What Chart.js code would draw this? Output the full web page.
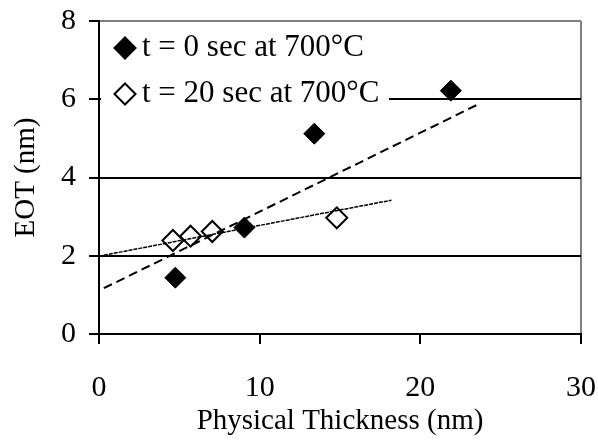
<!DOCTYPE html>
<html>
<head>
<meta charset="utf-8">
<script src="https://cdn.jsdelivr.net/npm/chart.js@4.4.1/dist/chart.umd.min.js"></script>
<style>
  html, body { margin: 0; padding: 0; background: #fff; }
  canvas { display: block; }
</style>
</head>
<body>
<canvas id="eotChart" width="598" height="440"></canvas>
<script>
// Datos
const series0X = [4.75, 9.05, 13.4, 21.9];      // t = 0 sec
const series0Y = [1.44, 2.72, 5.12, 6.22];
const series20X = [4.6, 5.7, 7.05, 14.8];       // t = 20 sec
const series20Y = [2.39, 2.5, 2.62, 2.97];
const trend0X = [0.3, 23.7];                    // línea discontinua
const trend0Y = [1.17, 5.89];
const trend20X = [0, 18.2];                     // línea fina
const trend20Y = [1.99, 3.42];
const legendLabels = ['t = 0 sec at 700°C', 't = 20 sec at 700°C'];
const xTicks = [0, 10, 20, 30];
const yTicks = [0, 2, 4, 6, 8];

const FONT = '"Liberation Serif", "Times New Roman", serif';

function toPoints(xs, ys) {
    return xs.map((x, i) => ({ x: x, y: ys[i] }));
}

function drawDiamond(ctx, x, y, r, filled) {
    ctx.beginPath();
    ctx.moveTo(x - r, y);
    ctx.lineTo(x, y - r);
    ctx.lineTo(x + r, y);
    ctx.lineTo(x, y + r);
    ctx.closePath();
    ctx.fillStyle = filled ? '#000' : '#fff';
    ctx.fill();
    ctx.lineWidth = 2;
    ctx.strokeStyle = '#000';
    ctx.stroke();
}

// Leyenda dentro del área del gráfico, con fondo blanco
const insideLegend = {
    id: 'insideLegend',
    afterDatasetsDraw(chart) {
        const ctx = chart.ctx;
        const area = chart.chartArea;
        ctx.save();
        ctx.fillStyle = '#fff';
        ctx.fillRect(area.left + 2, area.top + 2, 288, 95);
        ctx.font = '31px ' + FONT;
        ctx.textBaseline = 'middle';
        ctx.textAlign = 'left';
        const rows = [area.top + 27, area.top + 73];
        legendLabels.forEach((label, i) => {
            drawDiamond(ctx, area.left + 26, rows[i], 10.5, i === 0);
            ctx.fillStyle = '#000';
            ctx.fillText(label, area.left + 43, rows[i]);
        });
        ctx.restore();
    }
};

const ctx = document.getElementById('eotChart').getContext('2d');

new Chart(ctx, {
    type: 'scatter',
    data: {
        datasets: [
            {
                label: legendLabels[0],
                data: toPoints(series0X, series0Y),
                pointStyle: 'rectRot',
                pointRadius: 10.5,
                pointBackgroundColor: '#000',
                pointBorderColor: '#000',
                pointBorderWidth: 1,
                order: 3
            },
            {
                label: legendLabels[1],
                data: toPoints(series20X, series20Y),
                pointStyle: 'rectRot',
                pointRadius: 10.5,
                pointBackgroundColor: '#fff',
                pointBorderColor: '#000',
                pointBorderWidth: 2,
                order: 2
            },
            {
                label: 'trend 0',
                data: toPoints(trend0X, trend0Y),
                showLine: true,
                pointRadius: 0,
                borderColor: '#000',
                borderWidth: 2,
                borderDash: [9, 5],
                order: 1
            },
            {
                label: 'trend 20',
                data: toPoints(trend20X, trend20Y),
                showLine: true,
                pointRadius: 0,
                borderColor: '#000',
                borderWidth: 1.5,
                borderDash: [4, 1],
                order: 0
            }
        ]
    },
    options: {
        responsive: false,
        animation: false,
        layout: { padding: { left: 0, right: 17, top: 21, bottom: 0 } },
        plugins: {
            legend: { display: false },
            tooltip: { enabled: false }
        },
        scales: {
            x: {
                type: 'linear',
                min: 0,
                max: 30,
                afterBuildTicks: scale => { scale.ticks = xTicks.map(v => ({ value: v })); },
                afterFit: scale => {
                    scale.height = 106;
                    scale.paddingLeft = 0;
                    scale.paddingRight = 0;
                },
                border: { color: '#000', width: 2 },
                grid: {
                    color: c => c.tick && c.tick.value === 30 ? '#808080' : 'rgba(0,0,0,0)',
                    lineWidth: 2,
                    tickColor: '#000',
                    tickLength: 10,
                    drawOnChartArea: true
                },
                ticks: {
                    color: '#000',
                    font: { family: FONT, size: 30 },
                    padding: 26,
                    maxRotation: 0
                },
                title: {
                    display: true,
                    text: 'Physical Thickness (nm)',
                    color: '#000',
                    font: { family: FONT, size: 29 },
                    padding: { top: 0, bottom: 1 }
                }
            },
            y: {
                type: 'linear',
                min: 0,
                max: 8,
                afterBuildTicks: scale => { scale.ticks = yTicks.map(v => ({ value: v })); },
                afterFit: scale => {
                    scale.width = 99;
                    scale.paddingTop = 0;
                    scale.paddingBottom = 0;
                },
                border: { color: '#000', width: 2 },
                grid: {
                    color: c => c.tick && c.tick.value === 8 ? '#808080' : '#000',
                    lineWidth: 2,
                    tickColor: '#000',
                    tickLength: 10
                },
                ticks: {
                    color: '#000',
                    font: { family: FONT, size: 30 },
                    padding: 13
                },
                title: {
                    display: true,
                    text: 'EOT (nm)',
                    color: '#000',
                    font: { family: FONT, size: 29 },
                    padding: { top: 9, bottom: 0 }
                }
            }
        }
    },
    plugins: [insideLegend]
});
</script>
</body>
</html>
